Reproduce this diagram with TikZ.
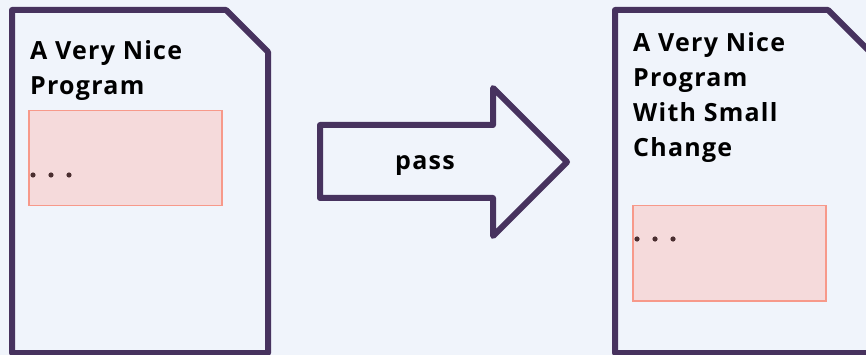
\documentclass[tikz,border=0pt]{standalone}
\usepackage{fontspec}
\setmainfont{Open Sans}[LetterSpace=5]
\usepackage{xcolor}
\usetikzlibrary{calc,positioning}

\definecolor{pagebg}{HTML}{F0F4FB}
\definecolor{docline}{HTML}{47325E}
\definecolor{codefill}{HTML}{F5DADB}
\definecolor{codeline}{HTML}{F7998A}
\definecolor{dotcol}{HTML}{4A2E30}

\begin{document}
\begin{tikzpicture}[
  x=1pt, y=-1pt,
  doc/.style={draw=docline, line width=6pt, line join=round},
  title/.style={anchor=base west, align=left, inner sep=0pt,
                font=\bfseries\fontsize{25}{35}\selectfont},
  code/.style={draw=codeline, fill=codefill, line width=1.5pt, anchor=north west,
               inner sep=0pt, minimum width=193pt, minimum height=95pt},
  every path/.style={line cap=round}
]
\useasboundingbox[fill=pagebg] (0,0) rectangle (866,355);

% original program
\draw[doc] (12,10) -- (226,10) -- (268,52) -- (268,353) -- (12,353) -- cycle;
\node[title] (oldtitle) at (30,95) {A Very Nice\\Program};
\node[code] (oldcode) at (28,110) {};
\foreach \i in {0,1,2}
  \fill[dotcol] ($(oldcode.north west)+(5+18*\i,65)$) circle (2.6pt);

% the pass
\draw[doc] (320,125) -- (493,125) -- (493,88) -- (567,162) -- (493,236)
  -- (493,198) -- (320,198) -- cycle;
\node[font=\bfseries\fontsize{25}{30}\selectfont, anchor=base, inner sep=0pt] (pass) at (425,170) {pass};

% changed program
\draw[doc] (615,10) -- (828,10) -- (870,52) -- (870,353) -- (615,353) -- cycle;
\node[title] (newtitle) at (633,157) {A Very Nice\\Program\\With Small\\Change};
\node[code] (newcode) at (632,205) {};
\foreach \i in {0,1,2}
  \fill[dotcol] ($(newcode.north west)+(5+18*\i,34)$) circle (2.6pt);
\end{tikzpicture}
\end{document}
